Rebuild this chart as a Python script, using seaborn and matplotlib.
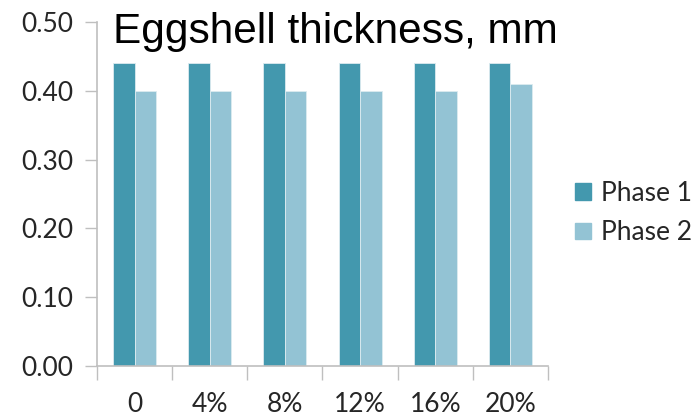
import numpy as np
import pandas as pd
import matplotlib
matplotlib.use("Agg")
import matplotlib.pyplot as plt
import seaborn as sns
from matplotlib.ticker import FixedLocator, FixedFormatter

categories = ["0", "4%", "8%", "12%", "16%", "20%"]
phase1 = [0.44, 0.44, 0.44, 0.44, 0.44, 0.44]
phase2 = [0.40, 0.40, 0.40, 0.40, 0.40, 0.41]
series_names = ["Phase 1", "Phase 2"]
y_ticks = [0.0, 0.1, 0.2, 0.3, 0.4, 0.5]
colors = ["#4398AE", "#93C3D4"]

df = pd.DataFrame({
    "level": categories * 2,
    "value": phase1 + phase2,
    "phase": [series_names[0]] * len(categories) + [series_names[1]] * len(categories),
})

sns.set_theme(style="white")
plt.rcParams["font.family"] = ["Lato", "DejaVu Sans"]

fig = plt.figure(figsize=(7.0, 4.17), dpi=100)
ax = fig.add_axes([97 / 700, 1 - 366 / 417, (548 - 97) / 700, (366 - 22) / 417])

sns.barplot(data=df, x="level", y="value", hue="phase", order=categories,
            hue_order=series_names, palette=colors, width=0.57, gap=0,
            saturation=1, edgecolor="#DCEBF0", linewidth=0.6, ax=ax)

ax.set_ylim(0, 0.5)
ax.set_xlim(-0.5, len(categories) - 0.5)
ax.set_xlabel("")
ax.set_ylabel("")

ax.set_yticks(y_ticks)
ax.set_yticklabels([f"{v:.2f}" for v in y_ticks], fontsize=19)

# category boundaries carry the tick marks, centers carry the labels
bounds = np.arange(len(categories) + 1) - 0.5
ax.xaxis.set_major_locator(FixedLocator(bounds))
ax.xaxis.set_major_formatter(FixedFormatter([""] * len(bounds)))
ax.xaxis.set_minor_locator(FixedLocator(np.arange(len(categories))))
ax.xaxis.set_minor_formatter(FixedFormatter(categories))
ax.tick_params(axis="x", which="major", direction="out", length=10, width=1,
               color="#BFBFBF", bottom=True)
ax.tick_params(axis="x", which="minor", length=0, labelsize=19, pad=19, bottom=True)
ax.tick_params(axis="y", direction="out", length=9, width=1, color="#BFBFBF",
               left=True, labelsize=19, pad=8)

for side in ["top", "right"]:
    ax.spines[side].set_visible(False)
for side in ["left", "bottom"]:
    ax.spines[side].set_color("#BFBFBF")
    ax.spines[side].set_linewidth(1.2)

ax.legend_.remove()
handles = [plt.Rectangle((0, 0), 1, 1, color=c) for c in colors]
fig.legend(handles, series_names, loc="center left",
           bbox_to_anchor=(575 / 700, 1 - 213 / 417), frameon=False,
           fontsize=19, handlelength=0.6, handleheight=0.6, handletextpad=0.4,
           labelspacing=0.55, borderaxespad=0, borderpad=0)

fig.text(113 / 700, 1 - 43 / 417, "Eggshell thickness, mm",
         family=["Liberation Sans", "DejaVu Sans"], fontsize=30.5,
         ha="left", va="baseline", color="black")

fig.savefig("out.png", dpi=100)
